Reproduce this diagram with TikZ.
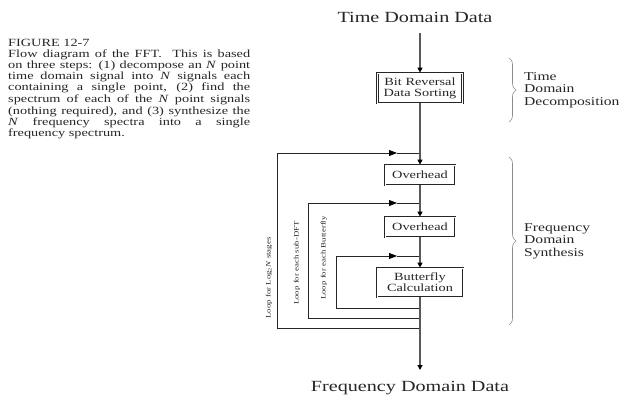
\documentclass[tikz,border=0pt]{standalone}
\usepackage{fontspec}
\setmainfont{Liberation Serif}[FakeStretch=1.3]
\usetikzlibrary{arrows.meta,decorations.pathreplacing}
\begin{document}
\begin{tikzpicture}[x=1pt,y=-1pt,
  every node/.style={text=black!85},
  box/.style={draw=black!85, line width=0.8pt, double=white, double distance=0.7pt,
    align=center, inner sep=0pt, font=\fontsize{11}{11}\selectfont},
  flow/.style={line width=1.5pt, draw=black!65},
  loopline/.style={line width=0.8pt, draw=black!85},
  tip/.style={-{Triangle[width=5pt,length=5pt,color=black]}},
  looptip/.style={-{Triangle[width=6pt,length=8pt,color=black]}},
  bracestyle/.style={decorate, decoration={brace, amplitude=7pt}, draw=black!45, line width=0.6pt},
  captext/.style={anchor=base west, inner sep=0pt, font=\fontsize{11}{11}\selectfont},
  looplabel/.style={rotate=90, inner sep=0pt, font=\fontsize{6.8}{7.5}\selectfont},
  sidelabel/.style={anchor=west, align=left, inner sep=0pt, font=\fontsize{12}{12.5}\selectfont},
  titletext/.style={anchor=base, inner sep=0pt, font=\fontsize{15.5}{16}\selectfont}]
\useasboundingbox (0,0) rectangle (621,396);

% caption
\node[captext] (c1) at (8,47) {FIGURE 12-7};
\node[captext] (c2) at (8,58) {\makebox[242pt][s]{Flow diagram of the FFT.~ This is based}};
\node[captext] (c3) at (8,69) {\makebox[242pt][s]{on three steps: (1) decompose an \textit{N} point}};
\node[captext] (c4) at (8,80) {\makebox[242pt][s]{time domain signal into \textit{N} signals each}};
\node[captext] (c5) at (8,91) {\makebox[242pt][s]{containing a single point, (2) find the}};
\node[captext] (c6) at (8,102) {\makebox[242pt][s]{spectrum of each of the \textit{N} point signals}};
\node[captext] (c7) at (8,114) {\makebox[242pt][s]{(nothing required), and (3) synthesize the}};
\node[captext] (c8) at (8,125) {\makebox[242pt][s]{\textit{N} frequency spectra into a single}};
\node[captext] (c9) at (8,136) {frequency spectrum.};

% titles
\node[titletext] (tdd) at (415,23) {Time Domain Data};
\node[titletext] (fdd) at (410,391) {Frequency Domain Data};

% boxes
\node[box, minimum width=85pt, minimum height=30pt] (bit) at (420,88) {Bit Reversal\\Data Sorting};
\node[box, minimum width=70pt, minimum height=20pt] (ov1) at (420,175) {Overhead};
\node[box, minimum width=70pt, minimum height=20pt] (ov2) at (420,227) {Overhead};
\node[box, minimum width=86pt, minimum height=29pt] (bf) at (420,282.5) {Butterfly\\Calculation};

% coordinates
\coordinate (top) at (420,33);
\coordinate (bot) at (420,370);
\coordinate (l1a) at (420,328); \coordinate (l1b) at (277,328);
\coordinate (l1c) at (277,153); \coordinate (l1m) at (397,153); \coordinate (l1d) at (420,153);
\coordinate (l2a) at (420,318); \coordinate (l2b) at (308,318);
\coordinate (l2c) at (308,203); \coordinate (l2m) at (397,203); \coordinate (l2d) at (420,203);
\coordinate (l3a) at (420,308); \coordinate (l3b) at (336,308);
\coordinate (l3c) at (336,256); \coordinate (l3m) at (397,256); \coordinate (l3d) at (420,256);

% loops
\draw[loopline,looptip] (l1a) -- (l1b) -- (l1c) -- (l1m);
\draw[loopline] (l1m) -- (l1d);
\draw[loopline,looptip] (l2a) -- (l2b) -- (l2c) -- (l2m);
\draw[loopline] (l2m) -- (l2d);
\draw[loopline,looptip] (l3a) -- (l3b) -- (l3c) -- (l3m);
\draw[loopline] (l3m) -- (l3d);

% main flow
\draw[flow,tip] (top) -- (bit.north);
\draw[flow,tip] (bit.south) -- (ov1.north);
\draw[flow,tip] (ov1.south) -- (ov2.north);
\draw[flow,tip] (ov2.south) -- (bf.north);
\draw[flow,tip] (bf.south) -- (bot);

% loop labels
\node[looplabel] (lab1) at (269,278) {Loop for Log\textsubscript{2}\textit{N} stages};
\node[looplabel] (lab2) at (297,263) {Loop for each sub-DFT};
\node[looplabel] (lab3) at (324,258) {Loop for each Butterfly};

% braces
\coordinate (b1t) at (509,58); \coordinate (b1b) at (509,122);
\coordinate (b2t) at (509,157); \coordinate (b2b) at (509,325);
\draw[bracestyle] (b1t) -- (b1b);
\draw[bracestyle] (b2t) -- (b2b);
\node[sidelabel] (tdlab) at (524,90) {Time\\Domain\\Decomposition};
\node[sidelabel] (fdlab) at (524,241) {Frequency\\Domain\\Synthesis};
\end{tikzpicture}
\end{document}
